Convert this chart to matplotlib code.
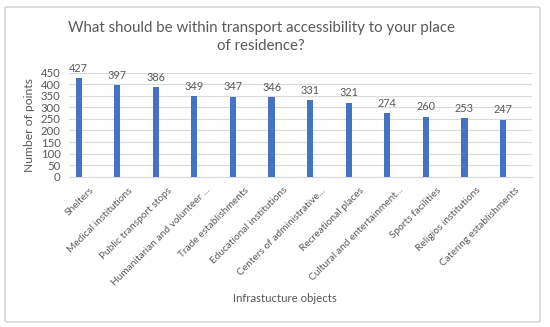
import matplotlib.pyplot as plt
from matplotlib.patches import FancyBboxPatch
from matplotlib.transforms import ScaledTranslation

plt.rcParams['font.family'] = ['Lato', 'DejaVu Sans']

# Chart data
categories = [
    "Shelters", "Medical institutions", "Public transport stops",
    "Humanitarian and volunteer ...", "Trade establishments",
    "Educational institutions", "Centers of administrative...",
    "Recreational places", "Cultural and entertainment...",
    "Sports facilities", "Religios institutions", "Catering establishments",
]
points = [427, 397, 386, 349, 347, 346, 331, 321, 274, 260, 253, 247]
yticks = [0, 50, 100, 150, 200, 250, 300, 350, 400, 450]

text_gray = '#595959'
grid_gray = '#d9d9d9'

fig = plt.figure(figsize=(5.5, 3.27), dpi=100)
ax = fig.add_axes([69 / 550, 1 - 176.7 / 327, 463 / 550, 104 / 327])

# outer chart frame
frame = FancyBboxPatch((5 / 550, 5 / 327), 535 / 550, 315 / 327,
                       boxstyle='round,pad=0,rounding_size=0.004',
                       transform=fig.transFigure, fill=False,
                       edgecolor='#d0d0d0', linewidth=1, zorder=0)
fig.patches.append(frame)

x = list(range(len(categories)))
bars = ax.bar(x, points, width=0.16, color='#4472c4', zorder=3)

for xi, v in zip(x, points):
    ax.annotate(str(v), (xi, v), xytext=(0, 3), textcoords='offset points',
                ha='center', va='bottom', fontsize=7.8, color=text_gray)

ax.set_xlim(-0.25, len(categories) - 0.25)
ax.set_ylim(0, 450)
ax.set_yticks(yticks)
ax.yaxis.grid(True, color=grid_gray, linewidth=0.8, zorder=0)
ax.set_axisbelow(True)

ax.set_xticks(x)
ax.set_xticklabels(categories, rotation=45, ha='right', va='top',
                   rotation_mode='anchor', fontsize=7.3, color=text_gray)
ax.tick_params(axis='y', labelsize=8.2, colors=text_gray, length=0, pad=6)
ax.tick_params(axis='x', length=0, pad=0)
shift = ScaledTranslation(0.11, -0.09, fig.dpi_scale_trans)
for lab in ax.get_xticklabels():
    lab.set_transform(lab.get_transform() + shift)

for side in ['top', 'right', 'left']:
    ax.spines[side].set_visible(False)
ax.spines['bottom'].set_color(grid_gray)

ax.set_ylabel("Number of points", fontsize=8.7, color=text_gray, labelpad=4)
fig.text(285 / 550, 1 - 298 / 327, "Infrastucture objects", ha='center',
         va='center', fontsize=8.2, color=text_gray)
fig.text(261 / 550, 1 - 37 / 327,
         "What should be within transport accessibility to your place\nof residence?",
         ha='center', va='center', fontsize=10.8, color=text_gray,
         linespacing=1.35)

fig.savefig('out.png', dpi=100, facecolor='white')
